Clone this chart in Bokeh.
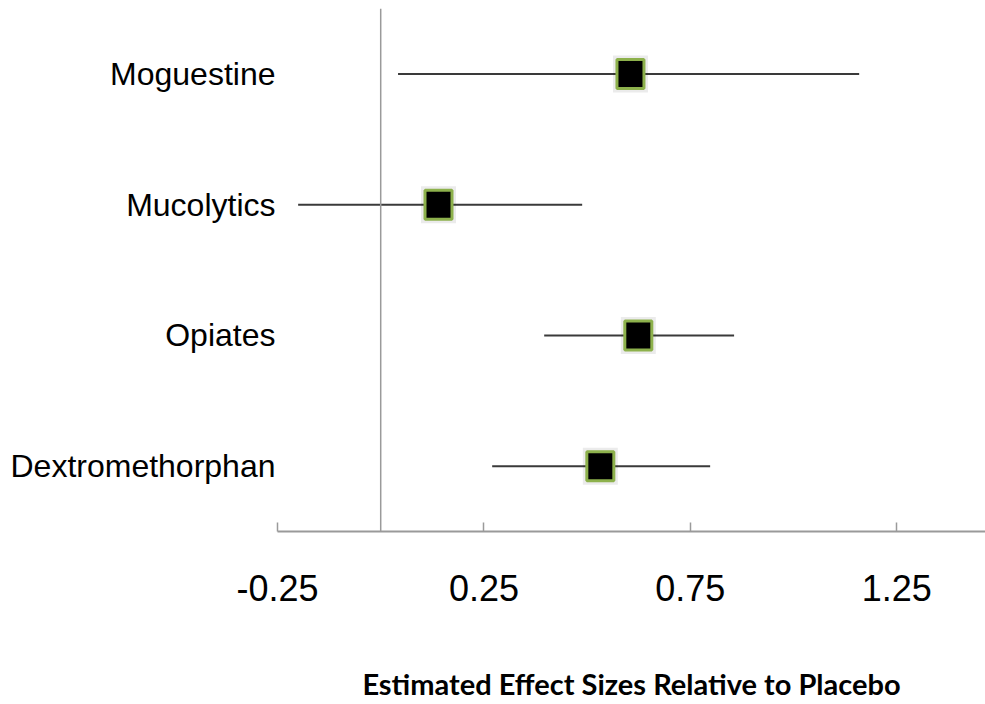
from bokeh.plotting import figure
from bokeh.models import FactorRange, Range1d, Span, FixedTicker, ColumnDataSource
from bokeh.embed import file_html
from bokeh.resources import INLINE

# Data
categories = ["Moguestine", "Mucolytics", "Opiates", "Dextromethorphan"]
estimates = [0.605, 0.14, 0.624, 0.532]
ci_low = [0.042, -0.20, 0.396, 0.27]
ci_high = [1.159, 0.488, 0.856, 0.798]
tick_values = [-0.25, 0.25, 0.75, 1.25]
tick_labels = ["-0.25", "0.25", "0.75", "1.25"]

src = ColumnDataSource(dict(cat=categories, est=estimates, lo=ci_low, hi=ci_high))

p = figure(
    width=985, height=704,
    x_range=Range1d(-0.25, 1.465),
    y_range=FactorRange(factors=list(reversed(categories))),
    output_backend="svg", toolbar_location=None,
    min_border_left=277, min_border_right=0, min_border_top=8, min_border_bottom=173,
)
p.outline_line_color = None
p.xgrid.visible = False
p.ygrid.visible = False
p.background_fill_color = "white"

# zero reference line
p.add_layout(Span(location=0, dimension="height", line_color="#9a9a9a", line_width=1.5))

# confidence intervals
p.segment(x0="lo", x1="hi", y0="cat", y1="cat", source=src, line_color="#3a3a3a", line_width=2)

# soft shadow + square markers
p.rect(x="est", y="cat", width=35, height=37, width_units="screen", height_units="screen",
       source=src, fill_color="black", fill_alpha=0.08, line_color=None)
p.rect(x="est", y="cat", width=27, height=29, width_units="screen", height_units="screen",
       source=src, fill_color="black", line_color="#8db14c", line_width=3)

# x axis
xa = p.xaxis[0]
xa.ticker = FixedTicker(ticks=tick_values)
xa.major_label_overrides = {v: s for v, s in zip(tick_values, tick_labels)}
xa.minor_tick_line_color = None
xa.major_tick_in = 9
xa.major_tick_out = 0
xa.major_tick_line_color = "#9a9a9a"
xa.major_tick_line_width = 1.5
xa.axis_line_color = "#9a9a9a"
xa.axis_line_width = 2
xa.major_label_text_font = "Liberation Sans"
xa.major_label_text_font_size = "36px"
xa.major_label_text_color = "black"
xa.major_label_standoff = 43
xa.axis_label = "Estimated Effect Sizes Relative to Placebo"
xa.axis_label_text_font = "Lato"
xa.axis_label_text_font_style = "bold"
xa.axis_label_text_font_size = "29px"
xa.axis_label_text_color = "black"
xa.axis_label_standoff = 62

# y axis (category labels)
ya = p.yaxis[0]
ya.axis_line_color = None
ya.major_tick_line_color = None
ya.minor_tick_line_color = None
ya.major_tick_in = 0
ya.major_tick_out = 0
ya.major_label_standoff = 2
ya.major_label_text_font = "Liberation Sans"
ya.major_label_text_font_size = "32px"
ya.major_label_text_color = "black"

open("out.html", "w").write(file_html(p, INLINE))
